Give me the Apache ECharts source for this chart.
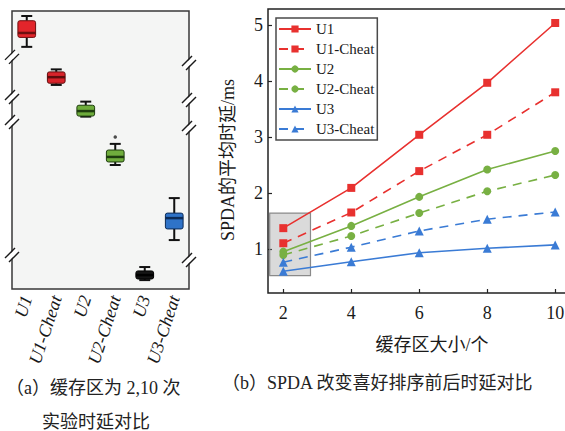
<!DOCTYPE html>
<html>
<head>
<meta charset="utf-8">
<script src="https://cdn.jsdelivr.net/npm/echarts@6/dist/echarts.min.js"></script>
<style>
  html, body { margin: 0; padding: 0; background: #fff; }
  #chart { width: 565px; height: 431px; }
</style>
</head>
<body>
<div id="chart"></div>
<script>
// (a) latency distribution over repeated runs (relative scale, broken axis)
const boxCategories = ['U1', 'U1-Cheat', 'U2', 'U2-Cheat', 'U3', 'U3-Cheat'];
// [min, Q1, median, Q3, max]
const boxU1      = [87.1, 90.5, 92.1, 96.5, 98.2];
const boxU1Cheat = [73.4, 74.0, 76.2, 78.1, 79.0];
const boxU2      = [62.0, 62.2, 64.0, 66.1, 67.4];
const boxU2Cheat = [44.6, 45.7, 47.5, 50.0, 52.2];
const boxU3      = [3.2, 3.6, 5.0, 6.5, 7.9];
const boxU3Cheat = [17.6, 21.6, 25.5, 27.3, 32.7];
const boxOutliers = [['U2-Cheat', 54.7]];
// where the value axis is cut
const breaksLeft = [83.5, 69.1, 60.1, 12.2];
const breaksRight = [81.3, 68.0, 57.9, 10.4];

// (b) mean SPDA latency vs. buffer size
const bufferSizes = [2, 4, 6, 8, 10];
const latU1      = [1.37, 2.09, 3.04, 3.97, 5.04];
const latU1Cheat = [1.10, 1.65, 2.39, 3.04, 3.80];
const latU2      = [0.95, 1.41, 1.93, 2.42, 2.75];
const latU2Cheat = [0.89, 1.23, 1.64, 2.03, 2.32];
const latU3      = [0.60, 0.77, 0.93, 1.01, 1.07];
const latU3Cheat = [0.76, 1.03, 1.32, 1.53, 1.66];
const latencyTicks = [1, 2, 3, 4, 5];
// highlighted region around the first buffer size
const zoomBox = { x: [1.6, 2.8], y: [0.52, 1.64] };

const boxStats = [boxU1, boxU1Cheat, boxU2, boxU2Cheat, boxU3, boxU3Cheat];

const SERIF = 'Liberation Serif, Noto Sans CJK SC, serif';
const RED = '#e8312f', GREEN = '#78b043', BLUE = '#3a7bd5';
const boxFill = ['#e2252b', '#d8232a', '#6dab3b', '#70ad3d', '#151515', '#2f73c8'];
const boxMid  = ['#6e0f10', '#5e0c0c', '#1e3d0e', '#1e3d0e', '#000000', '#0c2b57'];

const chart = echarts.init(document.getElementById('chart'), null, { renderer: 'svg' });

const L = { left: 12, top: 11, width: 177, height: 278 };

function renderBox(params, api) {
  const i = api.value(0);
  const c = v => api.coord([i, v]);
  const bw = api.size([1, 0])[0] * 0.6;
  const cw = bw * 0.62;
  const pMin = c(api.value(1)), pQ1 = c(api.value(2)), pMed = c(api.value(3)),
        pQ3 = c(api.value(4)), pMax = c(api.value(5));
  const x = pMed[0];
  const whisker = { stroke: '#111', lineWidth: 2 };
  return {
    type: 'group',
    children: [
      { type: 'line', shape: { x1: x, y1: pMax[1], x2: x, y2: pQ3[1] }, style: whisker },
      { type: 'line', shape: { x1: x, y1: pQ1[1], x2: x, y2: pMin[1] }, style: whisker },
      { type: 'line', shape: { x1: x - cw / 2, y1: pMax[1], x2: x + cw / 2, y2: pMax[1] }, style: whisker },
      { type: 'line', shape: { x1: x - cw / 2, y1: pMin[1], x2: x + cw / 2, y2: pMin[1] }, style: whisker },
      { type: 'rect', shape: { x: x - bw / 2, y: pQ3[1], width: bw, height: pQ1[1] - pQ3[1], r: 2 },
        style: { fill: boxFill[i], stroke: boxMid[i], lineWidth: 1 } },
      { type: 'line', shape: { x1: x - bw / 2, y1: pMed[1], x2: x + bw / 2, y2: pMed[1] },
        style: { stroke: boxMid[i], lineWidth: 2.5 } }
    ]
  };
}

function lineSeries(name, data, color, symbol, dashed) {
  return {
    name, type: 'line', xAxisIndex: 1, yAxisIndex: 1,
    data: bufferSizes.map((x, k) => [x, data[k]]),
    symbol, symbolSize: symbol === 'triangle' ? 9 : 8,
    color,
    lineStyle: { width: 1.6, type: dashed ? [9, 7] : 'solid', color },
    itemStyle: { color },
    z: 3
  };
}

const option = {
  animation: false,
  backgroundColor: '#fff',
  grid: [
    Object.assign({ show: true, backgroundColor: '#f4f5f4', borderColor: '#383838', borderWidth: 1.5,
                    outerBoundsMode: 'none' }, L),
    { left: 268, top: 9, width: 328, height: 284, show: true, borderColor: '#222', borderWidth: 1.5,
      outerBoundsMode: 'none' }
  ],
  xAxis: [
    {
      gridIndex: 0, type: 'category', data: boxCategories,
      axisLine: { show: false },
      axisTick: { inside: true, length: 3, alignWithLabel: true, lineStyle: { color: '#555' } },
      axisLabel: { rotate: 72, margin: 7, fontFamily: SERIF, fontStyle: 'italic', fontSize: 18, color: '#1a1a1a' }
    },
    {
      gridIndex: 1, type: 'value', min: 1.55, max: 11.2,
      axisLine: { show: false },
      splitLine: { show: false },
      axisTick: { inside: true, length: 4, customValues: bufferSizes, lineStyle: { color: '#222', width: 1.2 } },
      axisLabel: { customValues: bufferSizes, margin: 11, fontFamily: SERIF, fontSize: 18, color: '#1a1a1a' },
      name: '缓存区大小/个', nameLocation: 'middle', nameGap: 43,
      nameTextStyle: { fontFamily: SERIF, fontSize: 18, color: '#1a1a1a' }
    }
  ],
  yAxis: [
    {
      gridIndex: 0, type: 'value', min: 0, max: 100,
      axisLine: { show: false }, splitLine: { show: false },
      axisLabel: { show: false },
      axisTick: { inside: true, length: 3, customValues: [93.9, 75.9, 65.5, 49.3, 40.3, 31.3, 22.3, 4.0],
                  lineStyle: { color: '#666' } }
    },
    {
      gridIndex: 1, type: 'value', min: 0.21, max: 5.29,
      axisLine: { show: false }, splitLine: { show: false },
      axisTick: { inside: true, length: 4, customValues: latencyTicks, lineStyle: { color: '#222', width: 1.2 } },
      axisLabel: { customValues: latencyTicks, margin: 5, fontFamily: SERIF, fontSize: 18, color: '#1a1a1a' },
      name: 'SPDA的平均时延/ms', nameLocation: 'middle', nameGap: 31, nameRotate: 90,
      nameTextStyle: { fontFamily: SERIF, fontSize: 18, color: '#1a1a1a', padding: [0, 18, 0, 0] }
    }
  ],
  legend: {
    orient: 'vertical', left: 276, top: 18,
    padding: [1, 3, 1, 2],
    borderColor: '#4a4a4a', borderWidth: 1.5, backgroundColor: '#fff',
    itemWidth: 32, itemHeight: 9, itemGap: 0,
    textStyle: { fontFamily: SERIF, fontSize: 15, lineHeight: 20, color: '#1a1a1a' },
    data: ['U1', 'U1-Cheat', 'U2', 'U2-Cheat', 'U3', 'U3-Cheat']
  },
  series: [
    {
      type: 'custom', xAxisIndex: 0, yAxisIndex: 0,
      renderItem: renderBox,
      encode: { x: 0, y: [1, 2, 3, 4, 5] },
      data: boxStats.map((s, i) => [i].concat(s)),
      z: 3
    },
    {
      type: 'scatter', xAxisIndex: 0, yAxisIndex: 0,
      data: boxOutliers, symbolSize: 3.5, itemStyle: { color: '#222' }, z: 3
    },
    Object.assign(lineSeries('U1', latU1, RED, 'rect', false), {
      markArea: {
        silent: true,
        itemStyle: { color: 'rgba(140,140,140,0.32)', borderColor: '#8a8a8a', borderWidth: 1.2 },
        data: [[{ coord: [zoomBox.x[0], zoomBox.y[1]] }, { coord: [zoomBox.x[1], zoomBox.y[0]] }]]
      }
    }),
    lineSeries('U1-Cheat', latU1Cheat, RED, 'rect', true),
    lineSeries('U2', latU2, GREEN, 'circle', false),
    lineSeries('U2-Cheat', latU2Cheat, GREEN, 'circle', true),
    lineSeries('U3', latU3, BLUE, 'triangle', false),
    lineSeries('U3-Cheat', latU3Cheat, BLUE, 'triangle', true)
  ]
};

chart.setOption(option);

// "//" cut marks on both sides of the broken axis, plus sub-captions
function cutMark(x, y) {
  return {
    type: 'group',
    children: [
      { type: 'polygon', shape: { points: [[x - 6, y + 3], [x + 4, y - 7], [x + 6, y - 3], [x - 4, y + 7]] },
        style: { fill: '#fff' } },
      { type: 'line', shape: { x1: x - 7, y1: y + 3, x2: x + 3, y2: y - 7 }, style: { stroke: '#1a1a1a', lineWidth: 1.4 } },
      { type: 'line', shape: { x1: x - 3, y1: y + 7, x2: x + 7, y2: y - 3 }, style: { stroke: '#1a1a1a', lineWidth: 1.4 } }
    ]
  };
}
const marks = [];
breaksLeft.forEach(v => {
  marks.push(cutMark(L.left, chart.convertToPixel({ yAxisIndex: 0 }, v)));
});
breaksRight.forEach(v => {
  marks.push(cutMark(L.left + L.width, chart.convertToPixel({ yAxisIndex: 0 }, v)));
});
const capFont = '18px ' + SERIF;
marks.push(
  { type: 'text', left: 6, top: 379, style: { text: '（a）缓存区为 2,10 次', font: capFont, fill: '#222' } },
  { type: 'text', left: 42, top: 413, style: { text: '实验时延对比', font: capFont, fill: '#222' } },
  { type: 'text', left: 222, top: 374, style: { text: '（b）SPDA 改变喜好排序前后时延对比', font: capFont, fill: '#222' } }
);
chart.setOption({ graphic: marks });
</script>
</body>
</html>
